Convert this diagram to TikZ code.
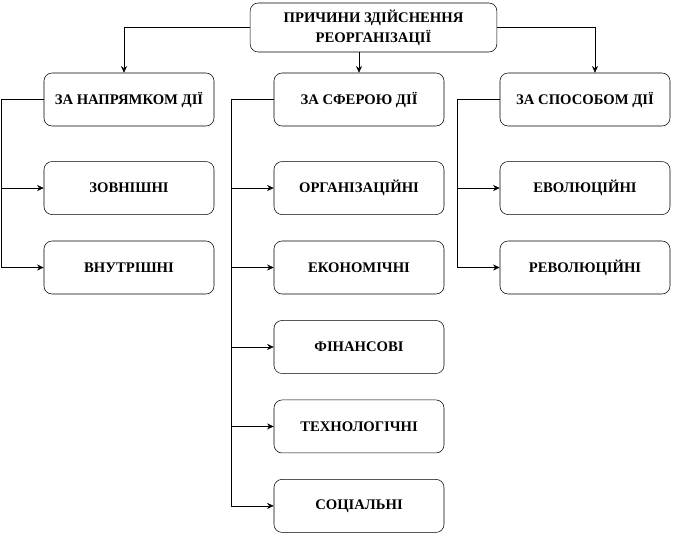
\documentclass[tikz,border=0pt]{standalone}
\usepackage{fontspec}
\setmainfont{Liberation Serif}
\usetikzlibrary{arrows.meta}
\usetikzlibrary{positioning}

\begin{document}
\begin{tikzpicture}[x=0.75pt,y=0.75pt,>={Stealth[length=5pt,width=4.5pt]},thin,
			node distance=59.6pt,font=\fontsize{11pt}{15pt}\selectfont\bfseries]
			\tikzstyle{box}=[draw,rounded corners=6pt,minimum width=127.5pt,minimum height=39.75pt]
			\tikzstyle{elbow}=[->,to path={-| (\tikztotarget) \tikztonodes}]
			\tikzstyle{bus}=[->,to path={-- ++(-42,0) |- (\tikztotarget) \tikztonodes}]
			\useasboundingbox (0,0) rectangle (673,-533);
			
			\node[box,minimum width=185pt,minimum height=36.75pt,align=center] (prich) at (373.5,-27.5) {ПРИЧИНИ ЗДІЙСНЕННЯ\\РЕОРГАНІЗАЦІЇ};
			
			% left column
			\node[box]         (napr) at (129,-99.5)  {ЗА НАПРЯМКОМ ДІЇ};
			\node[box]         (zovn) [below of=napr,node distance=66.4pt]  {ЗОВНІШНІ};
			\node[box]         (vnutr) [below of=zovn]  {ВНУТРІШНІ};
			
			% middle column
			\node[box]         (sfera) at (359,-99.5)  {ЗА СФЕРОЮ ДІЇ};
			\node[box]         (org) [below of=sfera,node distance=66.4pt]  {ОРГАНІЗАЦІЙНІ};
			\node[box]         (ekon) [below of=org]  {ЕКОНОМІЧНІ};
			\node[box]         (fin) [below of=ekon]  {ФІНАНСОВІ};
			\node[box]         (tekh) [below of=fin]  {ТЕХНОЛОГІЧНІ};
			\node[box]         (sots) [below of=tekh]  {СОЦІАЛЬНІ};
			
			% right column
			\node[box]         (sposib) at (585,-99.5)  {ЗА СПОСОБОМ ДІЇ};
			\node[box]         (evol) [below of=sposib,node distance=66.4pt]  {ЕВОЛЮЦІЙНІ};
			\node[box]         (revol) [below of=evol]  {РЕВОЛЮЦІЙНІ};
			
			\path (prich.west) edge   [elbow]   ([xshift=-3.75pt]napr.north)
			(prich.east) edge   [elbow]   ([xshift=7.5pt]sposib.north)
			(sfera.north |- prich.south) edge [->]  (sfera.north)
			(napr.west) edge   [bus]   (zovn.west)
			(napr.west) edge   [bus]   (vnutr.west)
			(sfera.west) edge  [bus]   (org.west)
			(sfera.west) edge  [bus]   (ekon.west)
			(sfera.west) edge  [bus]   (fin.west)
			(sfera.west) edge  [bus]   (tekh.west)
			(sfera.west) edge  [bus]   (sots.west)
			(sposib.west) edge [bus]   (evol.west)
			(sposib.west) edge [bus]   (revol.west)
			;
\end{tikzpicture}
\end{document}
